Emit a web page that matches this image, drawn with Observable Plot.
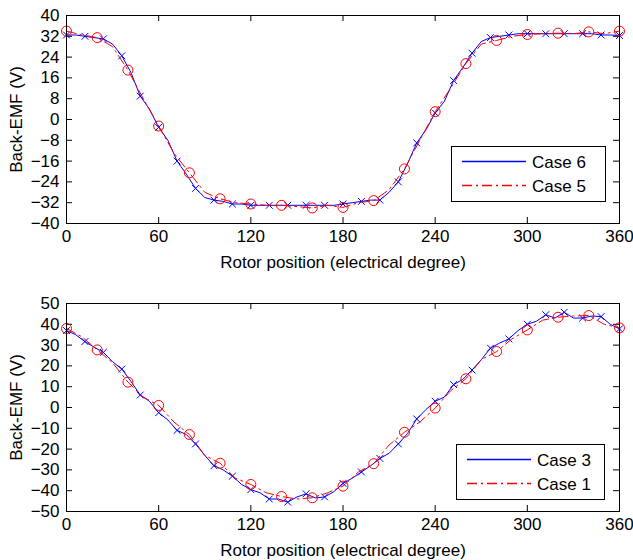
<!DOCTYPE html>
<html><head><meta charset="utf-8">
<script src="https://cdn.jsdelivr.net/npm/d3@7"></script>
<script src="https://cdn.jsdelivr.net/npm/@observablehq/plot@0.6"></script>
<style>
body{margin:0;background:#fff;}
#wrap{position:relative;width:633px;height:560px;font-family:"Liberation Sans",Arial,sans-serif;}
#wrap > div.panel{position:absolute;left:0;}
svg.leg{position:absolute;overflow:visible;}
</style></head>
<body><div id="wrap"></div>
<script>
// ---------- data ----------
const xTicks = [0, 60, 120, 180, 240, 300, 360];
const yTicksTop = [-40, -32, -24, -16, -8, 0, 8, 16, 24, 32, 40];
const yTicksBottom = [-50, -40, -30, -20, -10, 0, 10, 20, 30, 40, 50];

// blue curves sampled every 6 electrical degrees (markers every 12)
const anglesBlue = [0,6,12,18,24,30,36,42,48,54,60,66,72,78,84,90,96,102,108,114,120,126,132,138,144,150,156,162,168,174,180,186,192,198,204,210,216,222,228,234,240,246,252,258,264,270,276,282,288,294,300,306,312,318,324,330,336,342,348,354,360];
// red curves sampled every 10 electrical degrees (markers every 20)
const anglesRed = [0,10,20,30,40,50,60,70,80,90,100,110,120,130,140,150,160,170,180,190,200,210,220,230,240,250,260,270,280,290,300,310,320,330,340,350,360];

const case6 = [32.5,32.5,32,31.5,31,29,24.5,18,9,4,-3,-8,-16,-21,-26.5,-30,-31,-31.5,-32.5,-32.5,-33,-33,-33,-33,-33,-33,-33,-33,-33,-33,-32.5,-32,-31.5,-31,-31,-28,-24,-17,-9,-4,2.5,7,15,20,25.5,30,31.5,32,32.5,33,33,33,33,33,33,33,33,33,32.5,32.5,32.3];
const case5 = [34,32.5,31.5,28,19,8,-2.5,-13,-20.5,-28,-30.5,-32,-32.5,-33,-33,-33.5,-34,-33,-33.8,-32,-31.2,-27,-19,-8,3,12,21.5,29,30.4,32,32.7,33,33.2,33,33.7,33,34];

const case3 = [37,35,31.7,29,26.5,22,18.5,12.5,6,3,-2.5,-6,-11,-13,-17.5,-23,-28,-30,-33,-37,-39.5,-41,-44,-44,-45.5,-43,-41.5,-43.5,-43,-40.5,-36.5,-34,-31,-28,-24.5,-22,-17.5,-12.5,-5.5,-1,3,5,11,13.5,18,23,28.5,31,33,37,40,41.5,44.6,43,45.8,43,43,44,43.7,40,37.8];
const case1 = [38,34,27.7,21.5,12.2,5,1,-7,-13,-23,-26.8,-34,-37,-41,-42.8,-44,-43.4,-41,-37.8,-31,-27,-18,-11.9,-7,-0.3,8,13.8,23,26.9,33,37.3,42,43.4,44,44.2,40,38.3];

const panels = [
  {top: 0, yDomain: [-40, 40], yTicks: yTicksTop, blue: case6, red: case5, blueName: "Case 6", redName: "Case 5",
   legend: {left: 451, top: 146, width: 155, height: 56}},
  {top: 280, yDomain: [-50, 50], yTicks: yTicksBottom, blue: case3, red: case1, blueName: "Case 3", redName: "Case 1",
   legend: {left: 456, top: 444, width: 149, height: 56}}
];

// ---------- drawing ----------
const W = 633, H = 280, mL = 66, mR = 14, mT = [15, 23], mB = [57, 49];
const font = '"Liberation Sans", Arial, sans-serif';
const FS = 17;
const BLUE = "#0000ff", RED = "#ff0000", DASH = "10,4,2,4";
const wrap = document.getElementById("wrap");

panels.forEach((p, k) => {
  const blueData = anglesBlue.map((a, i) => ({a, v: p.blue[i]}));
  const redData = anglesRed.map((a, i) => ({a, v: p.red[i]}));
  const fh = H - mT[k] - mB[k], fw = W - mL - mR, tl = 6;
  const chart = Plot.plot({
    width: W, height: H, marginLeft: mL, marginRight: mR, marginTop: mT[k], marginBottom: mB[k],
    style: {fontFamily: font, fontSize: FS + "px", background: "white", color: "black", overflow: "visible"},
    x: {domain: [0, 360]},
    y: {domain: p.yDomain},
    marks: [
      Plot.axisX(xTicks, {anchor: "bottom", tickSize: 0, tickPadding: 6, fontSize: FS,
        label: "Rotor position (electrical degree)", labelAnchor: "center", labelOffset: 44, labelArrow: "none"}),
      Plot.axisY(p.yTicks, {anchor: "left", tickSize: 0, tickPadding: 7, fontSize: FS,
        label: "Back-EMF (V)", labelAnchor: "center", labelOffset: 57, labelArrow: "none"}),
      Plot.ruleX(xTicks, {x: d => d, insetTop: fh - tl, stroke: "black"}),
      Plot.ruleX(xTicks, {x: d => d, insetBottom: fh - tl, stroke: "black"}),
      Plot.ruleY(p.yTicks, {y: d => d, insetRight: fw - tl, stroke: "black"}),
      Plot.ruleY(p.yTicks, {y: d => d, insetLeft: fw - tl, stroke: "black"}),
      Plot.line(blueData, {x: "a", y: "v", stroke: BLUE, strokeWidth: 1}),
      Plot.dot(blueData.filter((d, i) => i % 2 === 0), {x: "a", y: "v", symbol: "times", r: 3.2, stroke: BLUE, strokeWidth: 1}),
      Plot.line(redData, {x: "a", y: "v", stroke: RED, strokeWidth: 1, strokeDasharray: DASH}),
      Plot.dot(redData.filter((d, i) => i % 2 === 0), {x: "a", y: "v", symbol: "circle", r: 5, stroke: RED, fill: "none", strokeWidth: 1}),
      Plot.frame({stroke: "black", strokeWidth: 1})
    ]
  });
  const holder = document.createElement("div");
  holder.className = "panel";
  holder.style.top = p.top + "px";
  holder.appendChild(chart);
  wrap.appendChild(holder);

  // legend (inside plot area, as in the reference)
  const L = p.legend;
  const ns = "http://www.w3.org/2000/svg";
  const svg = document.createElementNS(ns, "svg");
  svg.setAttribute("class", "leg");
  svg.setAttribute("width", L.width); svg.setAttribute("height", L.height);
  svg.style.left = L.left + "px"; svg.style.top = L.top + "px";
  const rect = document.createElementNS(ns, "rect");
  rect.setAttribute("x", 0.5); rect.setAttribute("y", 0.5);
  rect.setAttribute("width", L.width - 1); rect.setAttribute("height", L.height - 1);
  rect.setAttribute("fill", "white"); rect.setAttribute("stroke", "black");
  svg.appendChild(rect);
  [[p.blueName, BLUE, null, 15], [p.redName, RED, DASH, 39]].forEach(([name, col, dash, y]) => {
    const ln = document.createElementNS(ns, "line");
    ln.setAttribute("x1", 11); ln.setAttribute("x2", 75);
    ln.setAttribute("y1", y + 0.5); ln.setAttribute("y2", y + 0.5);
    ln.setAttribute("stroke", col);
    ln.style.stroke = col;
    ln.style.strokeWidth = "1.3px";
    if (dash) { ln.setAttribute("stroke-dasharray", dash); ln.style.strokeDasharray = dash; }
    svg.appendChild(ln);
    const t = document.createElementNS(ns, "text");
    t.setAttribute("x", 81); t.setAttribute("y", y + 7);
    t.setAttribute("font-family", font); t.setAttribute("font-size", FS + "px");
    t.setAttribute("fill", "black");
    t.textContent = name;
    svg.appendChild(t);
  });
  wrap.appendChild(svg);
});
</script>
</body></html>
